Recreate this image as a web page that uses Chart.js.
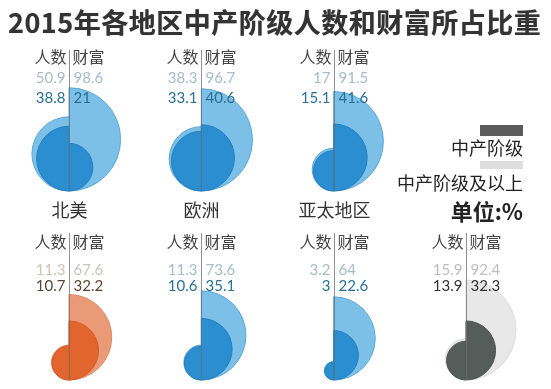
<!DOCTYPE html>
<html><head><meta charset="utf-8">
<script src="https://cdn.jsdelivr.net/npm/chart.js@4/dist/chart.umd.min.js"></script>
<style>
html,body{margin:0;padding:0;background:#fff;}
#wrap{position:relative;width:551px;height:389px;overflow:hidden;}
#title{position:absolute;left:8px;top:2px;font:bold 27px "Noto Sans CJK SC";color:#333;letter-spacing:0.5px;white-space:nowrap;text-shadow:0 0 1px #999;}
.lg{position:absolute;right:28px;font-family:"Noto Sans CJK SC";color:#222;white-space:nowrap;}
.bar{position:absolute;right:28px;width:43px;}
</style></head>
<body>
<div id="wrap">
<canvas id="c" width="551" height="389"></canvas>
<div id="title">2015年各地区中产阶级人数和财富所占比重</div>
<div class="bar" style="top:125px;height:11px;background:#5a5a5a"></div>
<div class="lg" style="top:134px;font-size:18px;">中产阶级</div>
<div class="bar" style="top:161px;height:8px;background:#dedede"></div>
<div class="lg" style="top:169px;font-size:18px;">中产阶级及以上</div>
<div class="lg" style="top:194px;font-size:22px;font-weight:bold;">单位:%</div>
</div>
<script>
// ---- data ----
const regions = ['北美', '欧洲', '亚太地区', '', '', '', ''];
const popMiddle = [38.8, 33.1, 15.1, 10.7, 10.6, 3, 13.9];
const popAll = [50.9, 38.3, 17, 11.3, 11.3, 3.2, 15.9];
const wealthMiddle = [21, 40.6, 41.6, 32.2, 35.1, 22.6, 32.3];
const wealthAll = [98.6, 96.7, 91.5, 67.6, 73.6, 64, 92.4];
const headLeft = '人数', headRight = '财富';

// ---- styles ----
const blue = {light:'#7cc0e8', lightB:'#5aa8d8', dark:'#2b8ed0', darkB:'#2580c0', t1:'#a6bccb', t2:'#2a6f94'};
const orange = {light:'#eb9a78', lightB:'#e08560', dark:'#e2652d', darkB:'#d65a25', t1:'#c9c3bd', t2:'#5a4636'};
const gray = {light:'#e8e8e8', lightB:'#dddddd', dark:'#565c5a', darkB:'#4d5351', t1:'#bdbdbd', t2:'#333333'};
const palette = [blue, blue, blue, orange, blue, blue, gray];
const rowCfg = [
  {line:-141, head:-134, v1:-113, v2:-93, label:19},
  {line:-147, head:-138, v1:-110, v2:-94, label:19}
];
const K = 5.2; // radius px per sqrt(%)  (area encoding)

const cell = i => i < 3 ? {col:i, row:0} : {col:i-3, row:1};
const pts = arr => arr.map((v,i) => ({x: cell(i).col, y: cell(i).row, r: K*Math.sqrt(v)}));

class HalfDisc extends Chart.BubbleController {
  draw() {
    const ctx = this.chart.ctx;
    const ds = this.getDataset();
    ctx.save();
    this.getMeta().data.forEach(el => {
      const r = el.options.radius;
      const cy = el.y - r;
      ctx.beginPath();
      if (ds.side === 'left') ctx.arc(el.x, cy, r, Math.PI/2, Math.PI*1.5);
      else ctx.arc(el.x, cy, r, -Math.PI/2, Math.PI/2);
      ctx.closePath();
      ctx.fillStyle = el.options.backgroundColor;
      ctx.fill();
      ctx.lineWidth = 1;
      ctx.strokeStyle = el.options.borderColor;
      ctx.stroke();
    });
    ctx.restore();
  }
}
HalfDisc.id = 'halfDisc';
HalfDisc.defaults = Chart.BubbleController.defaults;
HalfDisc.overrides = Chart.BubbleController.overrides;
Chart.register(HalfDisc);

const fmt = v => String(v);

const textPlugin = {
  id: 'panelText',
  afterDatasetsDraw(chart) {
    const {ctx} = chart, xs = chart.scales.x, ys = chart.scales.y;
    ctx.save();
    regions.forEach((name, i) => {
      const {col, row} = cell(i);
      const px = Math.round(xs.getPixelForValue(col)) + 0.5;
      const by = ys.getPixelForValue(row);
      const rc = rowCfg[row], pal = palette[i];
      ctx.strokeStyle = 'rgba(110,110,110,0.75)';
      ctx.lineWidth = 1;
      ctx.beginPath(); ctx.moveTo(px, by + rc.line); ctx.lineTo(px, by); ctx.stroke();
      ctx.textBaseline = 'middle';
      ctx.font = '16px "Noto Sans CJK SC"';
      ctx.fillStyle = '#444';
      ctx.textAlign = 'right'; ctx.fillText(headLeft, px - 3, by + rc.head);
      ctx.textAlign = 'left'; ctx.fillText(headRight, px + 3, by + rc.head);
      ctx.font = '15px Lato';
      ctx.fillStyle = pal.t1;
      ctx.textAlign = 'right'; ctx.fillText(fmt(popAll[i]), px - 4, by + rc.v1);
      ctx.textAlign = 'left'; ctx.fillText(fmt(wealthAll[i]), px + 4, by + rc.v1);
      ctx.fillStyle = pal.t2;
      ctx.textAlign = 'right'; ctx.fillText(fmt(popMiddle[i]), px - 4, by + rc.v2);
      ctx.textAlign = 'left'; ctx.fillText(fmt(wealthMiddle[i]), px + 4, by + rc.v2);
      if (name) {
        ctx.font = '18px "Noto Sans CJK SC"';
        ctx.fillStyle = '#333';
        ctx.textAlign = 'center';
        ctx.fillText(name, px, by + rc.label);
      }
    });
    ctx.restore();
  }
};

const styleFor = (kind) => ({
  backgroundColor: c => palette[c.dataIndex][kind],
  borderColor: c => palette[c.dataIndex][kind + 'B'],
});

new Chart(document.getElementById('c'), {
  type: 'halfDisc',
  data: {
    datasets: [
      Object.assign({label:'人数 中产阶级', side:'left', data: pts(popMiddle), order:1}, styleFor('dark')),
      Object.assign({label:'财富 中产阶级', side:'right', data: pts(wealthMiddle), order:2}, styleFor('dark')),
      Object.assign({label:'人数 中产阶级及以上', side:'left', data: pts(popAll), order:3}, styleFor('light')),
      Object.assign({label:'财富 中产阶级及以上', side:'right', data: pts(wealthAll), order:4}, styleFor('light'))
    ]
  },
  options: {
    responsive: false,
    animation: false,
    events: [],
    layout: {padding: 0, autoPadding: false},
    clip: false,
    plugins: {legend: {display:false}, tooltip: {enabled:false}, title:{display:false}},
    scales: {
      x: {type:'linear', display:false, min:-0.5214, max:3.6423},
      y: {type:'linear', display:false, reverse:true, min:-1.0106, max:1.0476}
    }
  },
  plugins: [textPlugin]
});
</script>
</body></html>
